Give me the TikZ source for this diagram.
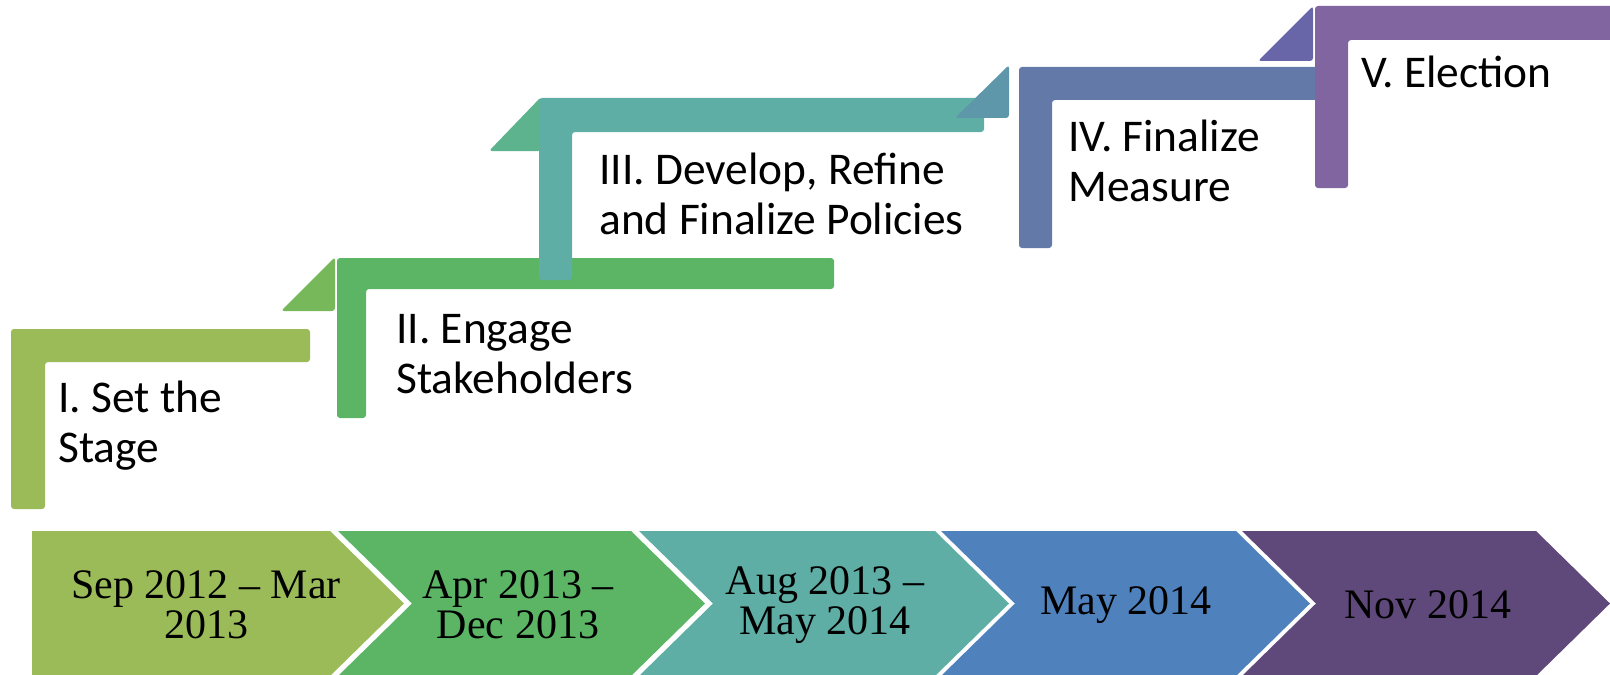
\documentclass[tikz,border=0pt]{standalone}
\usepackage{fontspec}
\setmainfont{Liberation Serif}
\newfontfamily\stagefont{Carlito}
\usepackage{tikz}

\definecolor{stepone}{HTML}{9BBB59}
\definecolor{steptwo}{HTML}{5CB565}
\definecolor{stepthree}{HTML}{5EAEA6}
\definecolor{stepfour}{HTML}{637AA9}
\definecolor{stepfive}{HTML}{8065A1}
\definecolor{tritwo}{HTML}{76B85A}
\definecolor{trithree}{HTML}{5DB38E}
\definecolor{trifour}{HTML}{5F97AA}
\definecolor{trifive}{HTML}{6866A8}
\definecolor{datefour}{HTML}{4F81BD}
\definecolor{datefive}{HTML}{5F497A}

\begin{document}
\begin{tikzpicture}[x=0.5pt,y=-0.5pt,
    bar/.style={rounded corners=1.5pt},
    stagetext/.style={anchor=base west,align=left,inner sep=0pt,
        font=\stagefont\fontsize{22.7}{25}\selectfont},
    datetext/.style={align=center,inner sep=0pt,
        font=\fontsize{21}{20}\selectfont}]
                        \useasboundingbox (0,0) rectangle (1610,674);

                        % steps
                        \fill[stepone,bar] (11,329) -- (310,329) -- (310,362) -- (45,362) -- (45,509) -- (11,509) -- cycle;

                        \fill[tritwo,bar] (335,257) -- (335,311) -- (281,311) -- cycle;
                        \fill[steptwo,bar] (337,258) -- (834,258) -- (834,289) -- (366,289) -- (366,418) -- (337,418) -- cycle;

                        \fill[trithree,bar] (541,97) -- (541,151) -- (489,151) -- cycle;
                        \fill[stepthree,bar] (539,98) -- (984,98) -- (984,132) -- (572,132) -- (572,280) -- (539,280) -- cycle;

                        \fill[trifour,bar] (1009,65) -- (1009,118) -- (955,118) -- cycle;
                        \fill[stepfour,bar] (1019,67) -- (1330,67) -- (1330,100) -- (1052,100) -- (1052,248) -- (1019,248) -- cycle;

                        \fill[trifive,bar] (1313,6) -- (1313,61) -- (1258,61) -- cycle;
                        \fill[stepfive,bar] (1315,6) -- (1620,6) -- (1620,40) -- (1348,40) -- (1348,188) -- (1315,188) -- cycle;

                        % base of a two-line node is its last line
                        \node[stagetext] (stage1) at (58,462) {I. Set the\\Stage};
                        \node[stagetext] (stage2) at (396,393) {II. Engage\\Stakeholders};
                        \node[stagetext] (stage3) at (599,234) {III. Develop, Refine\\and Finalize Policies};
                        \node[stagetext] (stage4) at (1068,201) {IV. Finalize\\Measure};
                        \node[stagetext] (stage5) at (1361,88) {V. Election};

                        % chevrons
                        \fill[stepone] (32,531) -- (330,531) -- (404,603.5) -- (330,676) -- (32,676) -- cycle;
                        \fill[steptwo] (338,531) -- (631,531) -- (705,603.5) -- (631,676) -- (338,676) -- (412,603.5) -- cycle;
                        \fill[stepthree] (639,531) -- (935,531) -- (1009,603.5) -- (935,676) -- (639,676) -- (713,603.5) -- cycle;
                        \fill[datefour] (941,531) -- (1236,531) -- (1310,603.5) -- (1236,676) -- (941,676) -- (1015,603.5) -- cycle;
                        \fill[datefive] (1242,531) -- (1536,531) -- (1610,603.5) -- (1536,676) -- (1242,676) -- (1316,603.5) -- cycle;

                        \node[datetext] (date1) at (206,605) {Sep 2012 -- Mar\\2013};
                        \node[datetext] (date2) at (518,605) {Apr 2013 --\\Dec 2013};
                        \node[datetext] (date3) at (825,605) {Aug 2013 --\\May 2014};
                        \node[datetext] (date4) at (1126,605) {May 2014};
                        \node[datetext] (date5) at (1428,605) {Nov 2014};
                    \end{tikzpicture}
\end{document}
